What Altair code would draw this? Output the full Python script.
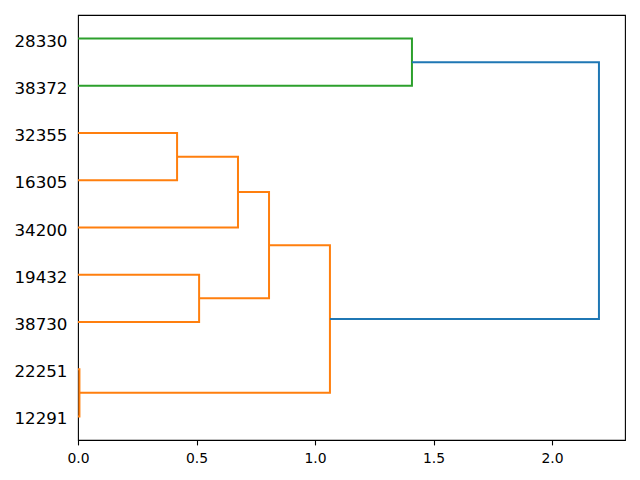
import altair as alt
import pandas as pd

# Leaf labels, bottom to top (as plotted)
leaves = ["12291", "22251", "38730", "19432", "34200", "16305", "32355", "38372", "28330"]

# Merges: left child, right child, merge distance, link colour
merge_a = ["22251", "32355", "M1", "19432", "M2", "M4", "28330", "M6"]
merge_b = ["12291", "16305", "34200", "38730", "M3", "M0", "38372", "M5"]
merge_h = [0.006, 0.418, 0.675, 0.511, 0.806, 1.063, 1.409, 2.198]
merge_c = ["C1", "C1", "C1", "C1", "C1", "C1", "C2", "C0"]

x_ticks = [0.0, 0.5, 1.0, 1.5, 2.0]

# positions
pos = {name: (0.0, 5 + 10 * i) for i, name in enumerate(leaves)}
rows = []
for k, (a, b, h, c) in enumerate(zip(merge_a, merge_b, merge_h, merge_c)):
    xa, ya = pos[a]
    xb, yb = pos[b]
    pts = [(xa, ya), (h, ya), (h, yb), (xb, yb)]
    for j, (px, py) in enumerate(pts):
        rows.append({"link": k, "ord": j, "x": px, "y": py, "c": c})
    pos[f"M{k}"] = (h, (ya + yb) / 2)

df = pd.DataFrame(rows)

xmax = max(merge_h) * 1.05
label_expr = "[" + ",".join(f"'{l}'" for l in leaves) + "][round((datum.value-5)/10)]"

chart = alt.Chart(df).mark_line(strokeWidth=2, strokeJoin="miter", strokeCap="butt").encode(
    x=alt.X("x:Q", scale=alt.Scale(domain=[0, xmax], nice=False, zero=False),
            axis=alt.Axis(values=x_ticks, format=".1f", title=None, grid=False,
                          labelFont="DejaVu Sans", labelFontSize=13.9, labelColor="black",
                          tickColor="black", tickSize=4.9, tickWidth=1.1, labelPadding=7,
                          domain=False, labelFlush=False)),
    y=alt.Y("y:Q", scale=alt.Scale(domain=[0, 90], nice=False, zero=False),
            axis=alt.Axis(values=[5 + 10 * i for i in range(len(leaves))], labelExpr=label_expr,
                          title=None, grid=False, ticks=False, domain=False,
                          labelFont="DejaVu Sans", labelFontSize=16.7, labelColor="black",
                          labelPadding=11, labelOffset=2.5)),
    detail="link:N",
    order="ord:Q",
    color=alt.Color("c:N", scale=alt.Scale(domain=["C0", "C1", "C2"],
                                          range=["#1f77b4", "#ff7f0e", "#2ca02c"]),
                    legend=None),
).properties(
    width=547, height=425,
    autosize=alt.AutoSizeParams(type="none"),
    padding={"left": 70, "top": 7, "right": 5, "bottom": 25},
).configure_view(stroke="black", strokeWidth=1.1)

chart.save("out.html", embed_options={"renderer": "svg", "actions": False})
